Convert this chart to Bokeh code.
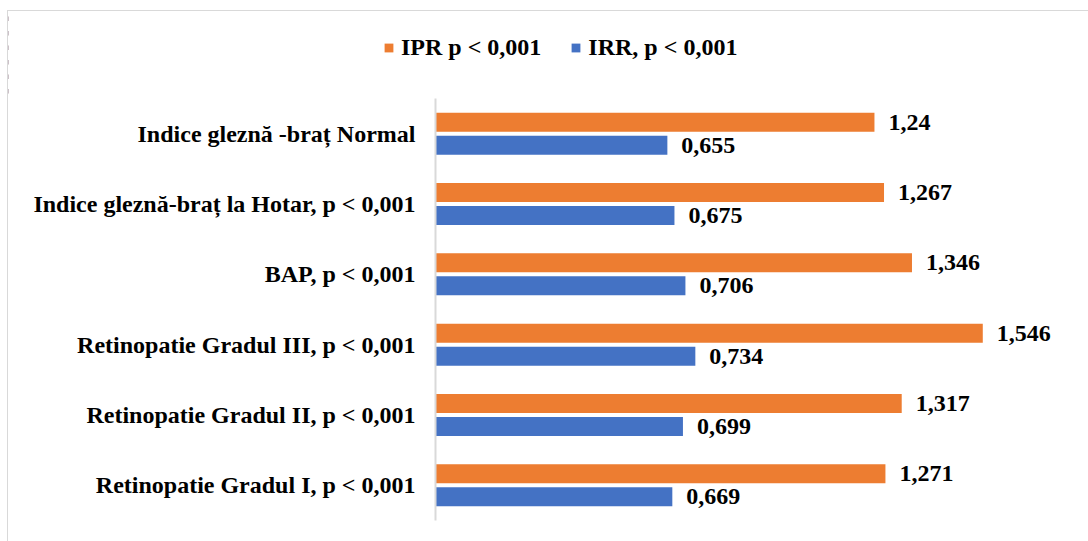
from bokeh.plotting import figure
from bokeh.layouts import column
from bokeh.models import (ColumnDataSource, FactorRange, Range1d, Legend, LegendItem)
from bokeh.transform import dodge
from bokeh.core.properties import value
from bokeh.embed import file_html
from bokeh.resources import INLINE

categories = [
    "Indice gleznă -braț Normal",
    "Indice gleznă-braț la Hotar, p < 0,001",
    "BAP, p < 0,001",
    "Retinopatie Gradul III, p < 0,001",
    "Retinopatie Gradul II, p < 0,001",
    "Retinopatie Gradul I, p < 0,001",
]
ipr = [1.24, 1.267, 1.346, 1.546, 1.317, 1.271]
irr = [0.655, 0.675, 0.706, 0.734, 0.699, 0.669]
series_names = ["IPR p < 0,001", "IRR, p < 0,001"]

ORANGE = "#ED7D31"
BLUE = "#4472C4"
FONT = "Liberation Serif"
W = 1080
TOP_H = 87
MAIN_H = 443


def fmt(v):
    return ("%g" % v).replace(".", ",")


src = ColumnDataSource(dict(
    cat=categories,
    ipr=ipr,
    irr=irr,
    ipr_lbl=[fmt(v) for v in ipr],
    irr_lbl=[fmt(v) for v in irr],
))

# ---- legend strip (same series; its x range lies beyond the data so only the legend shows) ----
top = figure(width=W, height=TOP_H,
             y_range=FactorRange(factors=list(reversed(categories))),
             x_range=Range1d(5, 6),
             output_backend="svg", toolbar_location=None, min_border=0)
top.frame_align = False
top.outline_line_color = None
top.xgrid.visible = False
top.ygrid.visible = False
top.xaxis.visible = False
top.yaxis.visible = False
lr1 = top.hbar(y="cat", right="ipr", left=0, height=0.3, source=src,
               fill_color=ORANGE, line_color=None)
lr2 = top.hbar(y="cat", right="irr", left=0, height=0.3, source=src,
               fill_color=BLUE, line_color=None)
legend = Legend(
    items=[LegendItem(label=series_names[0], renderers=[lr1]),
           LegendItem(label=series_names[1], renderers=[lr2])],
    orientation="horizontal",
    location=(375, 37),
    padding=0, margin=0, spacing=29,
    glyph_width=11, glyph_height=11, label_standoff=7, label_height=24,
    label_text_font=FONT, label_text_font_style="bold", label_text_font_size="24px",
    label_text_color="black",
    border_line_color=None, background_fill_alpha=0,
)
top.add_layout(legend, "center")

# ---- main chart ----
p = figure(
    width=W, height=MAIN_H,
    y_range=FactorRange(factors=list(reversed(categories))),
    x_range=Range1d(0, 653 / 354),
    output_backend="svg", toolbar_location=None,
    min_border_left=427, min_border_right=0, min_border_top=0, min_border_bottom=21,
)
p.frame_align = False
p.outline_line_color = None
p.xgrid.visible = False
p.ygrid.visible = False
p.xaxis.visible = False

ax = p.yaxis[0]
ax.axis_line_color = "#d9d9d9"
ax.axis_line_width = 2
ax.major_tick_line_color = None
ax.minor_tick_line_color = None
ax.major_label_standoff = 14
ax.major_label_text_font = FONT
ax.major_label_text_font_style = "bold"
ax.major_label_text_font_size = "24px"
ax.major_label_text_color = "black"

h = 0.27
off = 0.163
p.hbar(y=dodge("cat", off, range=p.y_range), right="ipr", left=0, height=h,
       source=src, fill_color=ORANGE, line_color=None)
p.hbar(y=dodge("cat", -off, range=p.y_range), right="irr", left=0, height=h,
       source=src, fill_color=BLUE, line_color=None)

for col, lbl, d in (("ipr", "ipr_lbl", off), ("irr", "irr_lbl", -off)):
    p.text(x=col, y=dodge("cat", d, range=p.y_range), text=lbl, source=src,
           x_offset=14, text_align="left", text_baseline="middle",
           text_font=value(FONT), text_font_style="bold", text_font_size="24px",
           text_color="black")

layout = column(top, p, spacing=0)
layout.styles = {"margin-left": "7px", "margin-top": "10px",
                 "border-left": "1px solid #d9d9d9", "border-top": "1px solid #d9d9d9"}

open("out.html", "w").write(file_html(layout, INLINE))
